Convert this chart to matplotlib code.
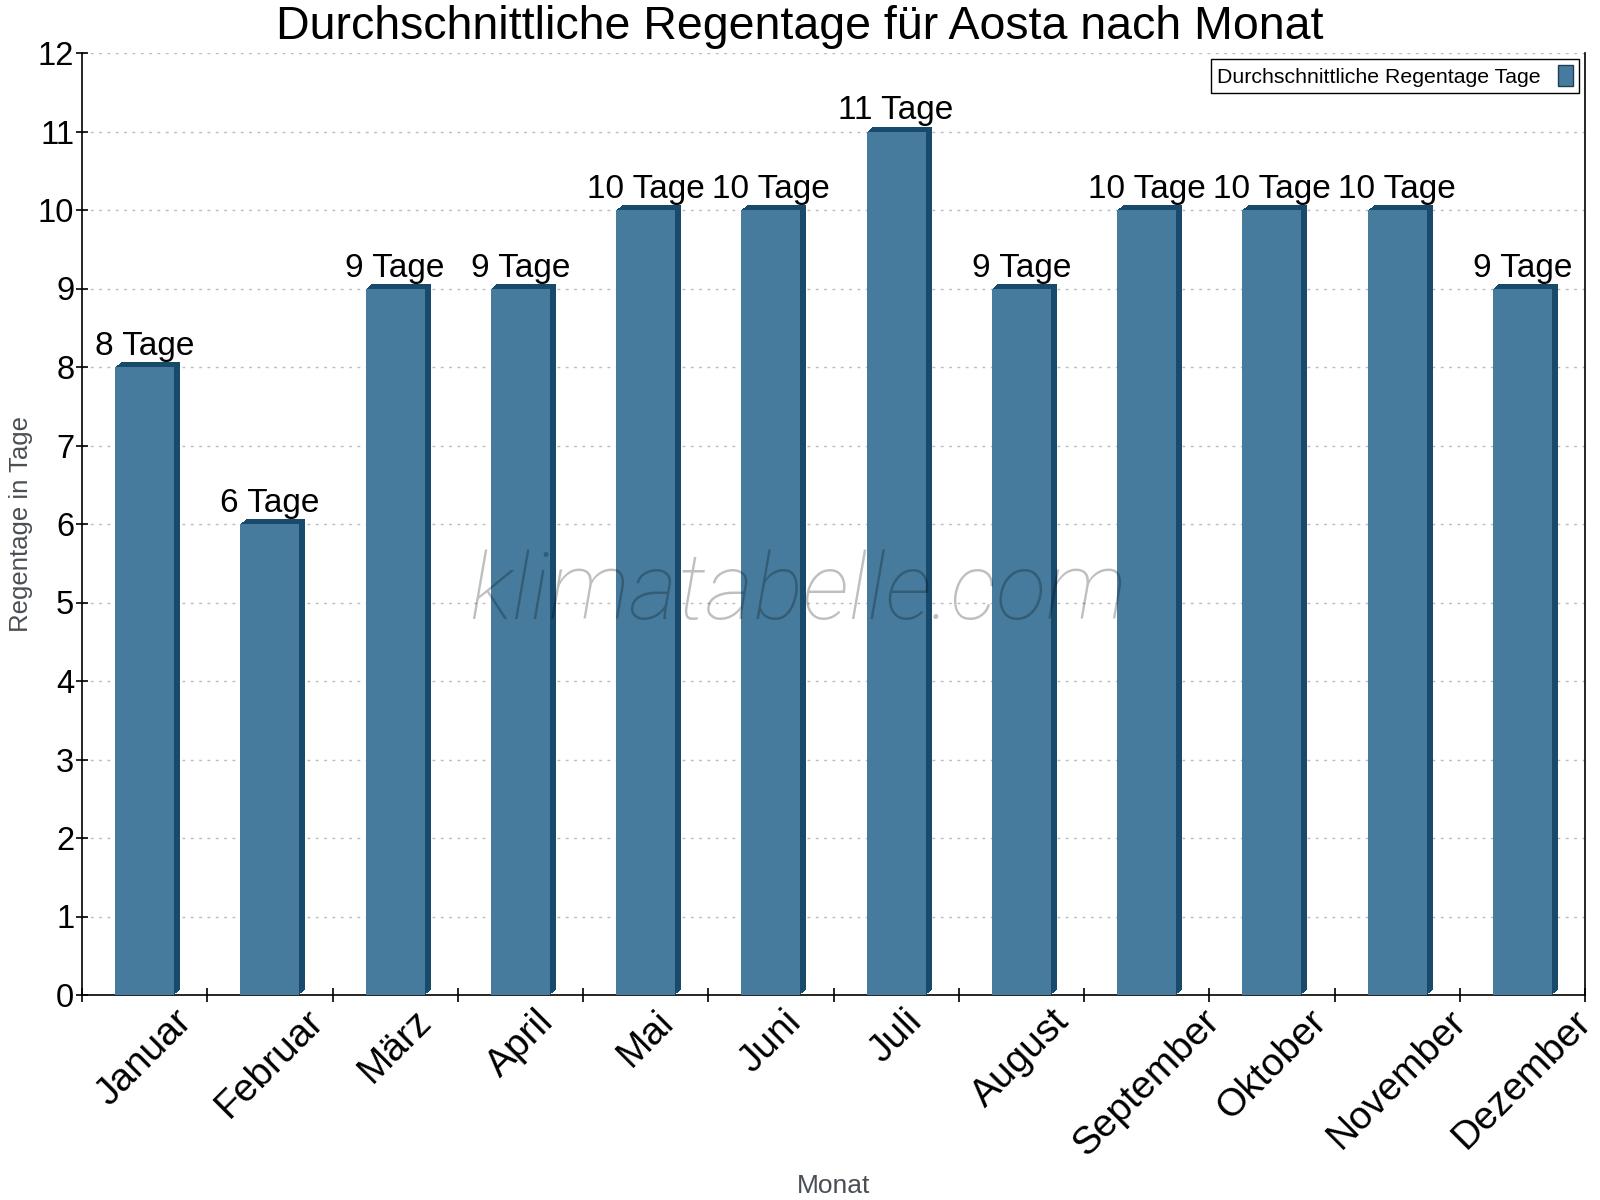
import matplotlib
matplotlib.use("Agg")
import matplotlib.pyplot as plt
import matplotlib.transforms as mtransforms
from matplotlib.patches import Patch

months = ["Januar", "Februar", "März", "April", "Mai", "Juni", "Juli",
          "August", "September", "Oktober", "November", "Dezember"]
rain_days = [8, 6, 9, 9, 10, 10, 11, 9, 10, 10, 10, 9]
value_labels = [f"{v} Tage" for v in rain_days]
yticks = list(range(0, 13))

plt.rcParams['font.family'] = ['Liberation Sans', 'DejaVu Sans']

FRONT = '#467b9d'
DARK = '#184a6c'

fig = plt.figure(figsize=(16, 12), dpi=100)
ax = fig.add_axes([82/1600, 1 - 995/1200, (1585-82)/1600, (995-53)/1200])

x = list(range(len(months)))
width = 0.47

# depth (extrusion) drawn as offset copies behind the front faces
DX, DY = 6, 5
for k in range(1, DX + 1):
    off = mtransforms.ScaledTranslation(k / 100, (k * DY / DX) / 100, fig.dpi_scale_trans)
    ax.bar(x, rain_days, width=width, color=DARK, edgecolor='none',
           transform=ax.transData + off, zorder=2)
ax.bar(x, rain_days, width=width, color=FRONT, edgecolor='none', zorder=3)

ax.set_xlim(-0.5, len(months) - 0.5)
ax.set_ylim(0, 12)

# value labels
lab_off = mtransforms.ScaledTranslation(0, 5 / 100, fig.dpi_scale_trans)
for xi, v, s in zip(x, rain_days, value_labels):
    ax.text(xi, v, s, ha='center', va='bottom', fontsize=24, color='black',
            transform=ax.transData + lab_off, zorder=5)

# grid
ax.set_yticks(yticks)
ax.yaxis.grid(True, linestyle=(0, (2, 4)), color='#bbbbbb', linewidth=1)
ax.set_axisbelow(True)
ax.tick_params(axis='y', direction='inout', length=9, width=1.2, labelsize=23.5, pad=1)

# x ticks at boundaries, labels at centers
ax.set_xticks([i - 0.5 for i in range(len(months) + 1)])
ax.set_xticklabels([])
ax.tick_params(axis='x', which='major', direction='inout', length=10, width=1.2)
ax.set_xticks(x, minor=True)
ax.set_xticklabels(months, minor=True, rotation=45, ha='center', fontsize=28)
ax.tick_params(axis='x', which='minor', length=0, pad=6)

for side in ['left', 'bottom', 'right']:
    ax.spines[side].set_linewidth(1.2)
ax.spines['top'].set_visible(False)

ax.set_xlabel('Monat', fontsize=19, color='#4a4f55')
ax.xaxis.set_label_coords(0.5, 1 - 1174/1200,
                          transform=mtransforms.blended_transform_factory(ax.transAxes, fig.transFigure))
ax.set_ylabel('Regentage in Tage', fontsize=18.5, color='#4a4f55')
ax.yaxis.set_label_coords(33/1600, 0.5,
                          transform=mtransforms.blended_transform_factory(fig.transFigure, ax.transAxes))

fig.text(0.5, 1 - 39/1200, 'Durchschnittliche Regentage für Aosta nach Monat',
         ha='center', va='baseline', fontsize=33.5)

# watermark
fig.text(798/1600, 1 - 594/1200, 'klimatabelle.com', ha='center', va='center',
         fontsize=67, family=['Roboto', 'DejaVu Sans'], fontweight='light',
         style='italic', color='black', alpha=0.25, zorder=10)

handle = Patch(facecolor=FRONT, edgecolor='#1e3e55', linewidth=1)
leg = ax.legend([handle], ['Durchschnittliche Regentage Tage'], loc='upper right',
                bbox_to_anchor=(1579/1600, 1 - 59/1200), bbox_transform=fig.transFigure,
                markerfirst=False, fontsize=15.3, frameon=True, fancybox=False,
                edgecolor='black', framealpha=1, handlelength=0.7, handleheight=1.1,
                borderpad=0.3, handletextpad=0.8, borderaxespad=0)
leg.get_frame().set_linewidth(1)

fig.savefig('out.png', dpi=100)
